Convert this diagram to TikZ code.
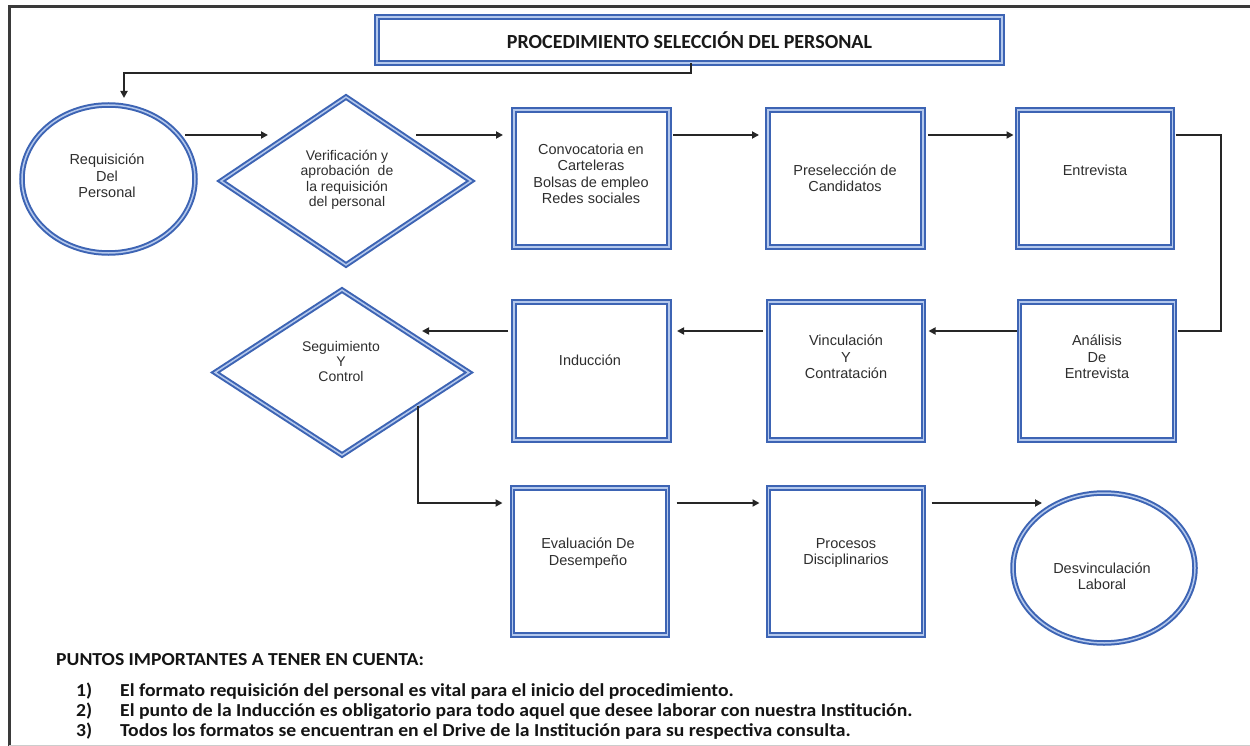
\documentclass[tikz,border=0pt]{standalone}
\usepackage{graphicx}
\usepackage{fontspec}
\setmainfont{Liberation Sans}
\newfontfamily\calibfont{Carlito}
\usetikzlibrary{shapes.geometric,arrows.meta,calc}
\definecolor{bdark}{HTML}{3D64B4}
\definecolor{blight}{HTML}{B4C8EC}
\definecolor{conn}{HTML}{262626}
\definecolor{txt}{HTML}{2E2E2E}
\definecolor{framec}{HTML}{3A3A3A}
\newcommand{\wide}[1]{\scalebox{1.075}[1]{#1}}
\begin{document}
\begin{tikzpicture}[x=1pt,y=-1pt,
  blueborder/.style={draw=bdark, line width=2pt, double=blight, double distance=1.5pt, fill=white, inner sep=0pt, outer sep=0pt},
  stepbox/.style={blueborder, rectangle, minimum width=155pt, minimum height=137pt},
  lbl/.style={font=\fontsize{14.5}{16.5}\selectfont, text=txt, align=center, inner sep=0pt},
  note/.style={font=\calibfont\bfseries\fontsize{18.3}{20}\selectfont, text=black!92, anchor=base west, inner sep=0pt},
  arr/.style={draw=conn, line width=1.8pt, -{Triangle[length=7pt,width=7pt]}},
  plainline/.style={draw=conn, line width=1.8pt},
]
\useasboundingbox (0,0) rectangle (1250,746);
\fill[white] (0,0) rectangle (1250,746);
% frame
\draw[framec, line width=3pt] (9,746) -- (9,7) -- (1250,7);
\draw[black!20, line width=1pt] (9,745) -- (1250,745);

% row levels
\coordinate (r1) at (0,135);
\coordinate (r2) at (0,331);
\coordinate (r3) at (0,503);

% title
\node[blueborder, rectangle, minimum width=625pt, minimum height=46pt,
      font=\calibfont\bfseries\fontsize{20}{22}\selectfont, text=black!90] (title) at (689.5,40) {PROCEDIMIENTO SELECCIÓN DEL PERSONAL};

% row 1
\node[blueborder, ellipse, minimum width=173pt, minimum height=148pt] (e1) at (108.5,179) {};
\node[lbl] (e1t) at (107,176) {Requisición\\Del\\Personal};
\node[blueborder, diamond, minimum width=250pt, minimum height=168pt] (d1) at (346,181) {};
\node[lbl, font=\fontsize{14}{15.5}\selectfont] (d1t) at (347,180) {Verificación y\\aprobación~~de\\la requisición\\del personal};
\node[stepbox] (b1) at (591.5,178.5) {};
\node[lbl] (b1t) at (591,174) {Convocatoria en\\Carteleras\\Bolsas de empleo\\Redes sociales};
\node[stepbox] (b2) at (845.5,178.5) {};
\node[lbl] (b2t) at (845,178) {Preselección de\\Candidatos};
\node[stepbox] (b3) at (1095,178.5) {};
\node[lbl] (b3t) at (1095,170) {Entrevista};

% row 2
\node[stepbox, minimum height=138pt] (b4) at (1097,371) {};
\node[lbl] (b4t) at (1097,357) {Análisis\\De\\Entrevista};
\node[stepbox, minimum height=138pt] (b5) at (846,371) {};
\node[lbl] (b5t) at (846,357) {Vinculación\\Y\\Contratación};
\node[stepbox, minimum height=138pt] (b6) at (591.5,371) {};
\node[lbl] (b6t) at (590,360) {Inducción};
\node[blueborder, diamond, minimum width=254pt, minimum height=165pt] (d2) at (342,372.5) {};
\node[lbl, font=\fontsize{14}{15}\selectfont] (d2t) at (341,361) {Seguimiento\\Y\\Control};

% row 3
\node[stepbox, minimum height=147pt] (b7) at (590,561.5) {};
\node[lbl] (b7t) at (588,553) {Evaluación De\\Desempeño};
\node[stepbox, minimum height=147pt] (b8) at (846,561.5) {};
\node[lbl] (b8t) at (846,553) {Procesos\\Disciplinarios};
\node[blueborder, ellipse, minimum width=182pt, minimum height=150pt] (e2) at (1104,568) {};
\node[lbl] (e2t) at (1102,576) {Desvinculación\\Laboral};

% connectors
\draw[arr] ([xshift=1.5pt]title.south) -- ++(0,10) -| ([xshift=15.5pt,yshift=7pt]e1.north);
\draw[arr] ([xshift=-10pt]e1.east |- r1) -- ([xshift=47pt]d1.west |- r1);
\draw[arr] ([xshift=-55pt]d1.east |- r1) -- ([xshift=-11pt]b1.west |- r1);
\draw[arr] ([xshift=4pt]b1.east |- r1) -- ([xshift=-9pt]b2.west |- r1);
\draw[arr] ([xshift=5pt]b2.east |- r1) -- ([xshift=-4pt]b3.west |- r1);
\coordinate (cr) at (1221,0);
\draw[plainline] ([xshift=3pt]b3.east |- r1) -| (cr |- r2) -- ([xshift=3pt]b4.east |- r2);
\draw[arr] ([xshift=-3pt]b4.west |- r2) -- ([xshift=5pt]b5.east |- r2);
\draw[arr] ([xshift=-6pt]b5.west |- r2) -- ([xshift=8pt]b6.east |- r2);
\draw[arr] ([xshift=-6pt]b6.west |- r2) -- ([xshift=-47pt]d2.east |- r2);
\draw[arr] ($(d2.east)!0.4!(d2.south)$) |- ([xshift=-10pt]b7.west |- r3);
\draw[arr] ([xshift=9pt]b7.east |- r3) -- ([xshift=-9pt]b8.west |- r3);
\draw[arr] ([xshift=8pt]b8.east |- r3) -- ([xshift=29pt]e2.west |- r3);

% notes
\node[note] (pt) at (56,665) {\wide{PUNTOS IMPORTANTES A TENER EN CUENTA:}};
\node[note] (n1) at (76,696) {\wide{1)}};
\node[note] (i1) at (120,696) {\wide{El formato requisición del personal es vital para el inicio del procedimiento.}};
\node[note] (n2) at (76,716) {\wide{2)}};
\node[note] (i2) at (120,716) {\wide{El punto de la Inducción es obligatorio para todo aquel que desee laborar con nuestra Institución.}};
\node[note] (n3) at (76,736) {\wide{3)}};
\node[note] (i3) at (120,736) {\wide{Todos los formatos se encuentran en el Drive de la Institución para su respectiva consulta.}};
\end{tikzpicture}
\end{document}
